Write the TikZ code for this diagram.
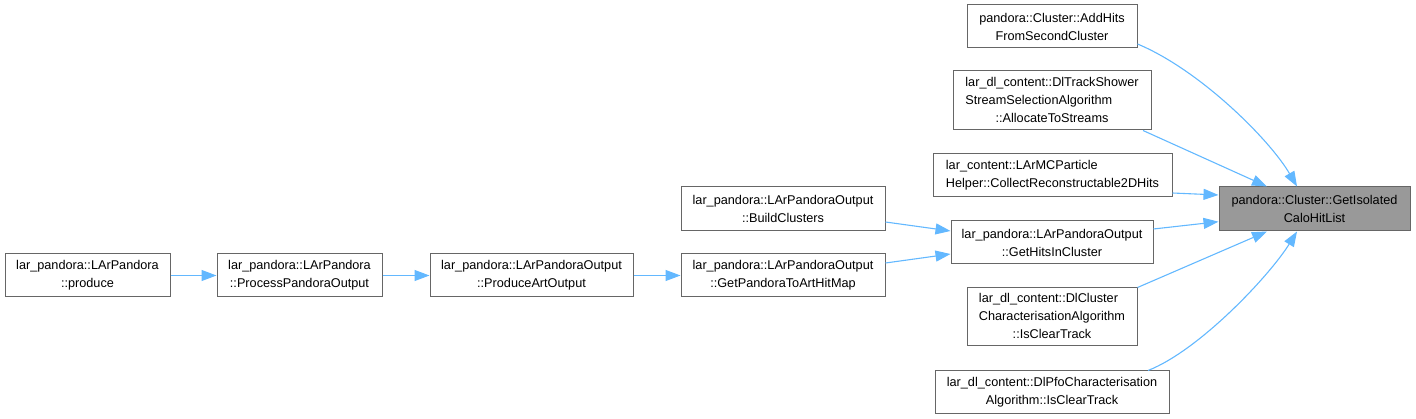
\documentclass[tikz,border=0pt]{standalone}
\usepackage{fontspec}
\setmainfont{Liberation Sans}
\usetikzlibrary{arrows.meta}
\definecolor{edgeblue}{HTML}{63B8FF}
\definecolor{boxborder}{HTML}{666666}
\definecolor{hlfill}{HTML}{999999}
\tikzset{
  fnbox/.style={draw=boxborder, line width=1pt, fill=white, inner sep=0pt, align=center,
    font=\fontsize{12.7}{18}\selectfont},
  hlbox/.style={fnbox, fill=hlfill},
  calledge/.style={draw=edgeblue, line width=1.1pt, -{Triangle[length=15pt,width=11pt]}}
}
\begin{document}
\begin{tikzpicture}[x=1pt,y=-1pt]
\useasboundingbox (0,0) rectangle (1416,419);
% left chain
\node[fnbox, minimum width=165pt, minimum height=43pt] (produce) at (87.5,275.5) {lar\_pandora::LArPandora\\::produce};
\node[fnbox, minimum width=165pt, minimum height=43pt] (process) at (299.5,275.5) {lar\_pandora::LArPandora\\::ProcessPandoraOutput};
\node[fnbox, minimum width=203pt, minimum height=43pt] (produceart) at (531.5,275.5) {lar\_pandora::LArPandoraOutput\\::ProduceArtOutput};
\node[fnbox, minimum width=204pt, minimum height=44pt] (buildclusters) at (783,209) {lar\_pandora::LArPandoraOutput\\::BuildClusters};
\node[fnbox, minimum width=204pt, minimum height=43pt] (getp2a) at (783,275.5) {lar\_pandora::LArPandoraOutput\\::GetPandoraToArtHitMap};
% right column
\node[fnbox, minimum width=202pt, minimum height=43pt] (gethits) at (1052,242.5) {lar\_pandora::LArPandoraOutput\\::GetHitsInCluster};
\node[fnbox, minimum width=170pt, minimum height=43pt] (addhits) at (1052,26.5) {pandora::Cluster::AddHits\\FromSecondCluster};
\node[fnbox, minimum width=198pt, minimum height=59pt] (trackshower) at (1052,100.5)
  {\begin{tabular}{@{}l@{}}lar\_dl\_content::DlTrackShower\\StreamSelectionAlgorithm\\\multicolumn{1}{@{}c@{}}{::AllocateToStreams}\end{tabular}};
\node[fnbox, minimum width=239pt, minimum height=43pt, align=left] (mcparticle) at (1052.5,175.5) {lar\_content::LArMCParticle\\Helper::CollectReconstructable2DHits};
\node[fnbox, minimum width=170pt, minimum height=58pt] (dlcluster) at (1052,317)
  {\begin{tabular}{@{}l@{}}lar\_dl\_content::DlCluster\\CharacterisationAlgorithm\\\multicolumn{1}{@{}c@{}}{::IsClearTrack}\end{tabular}};
\node[fnbox, minimum width=234pt, minimum height=42pt] (dlpfo) at (1052,392) {lar\_dl\_content::DlPfoCharacterisation\\Algorithm::IsClearTrack};
% highlighted
\node[hlbox, minimum width=191pt, minimum height=44pt] (isolated) at (1314.5,209) {pandora::Cluster::GetIsolated\\CaloHitList};
% edges
\draw[calledge] (produce.east) -- (process.west);
\draw[calledge] (process.east) -- (produceart.west);
\draw[calledge] (produceart.east) -- (getp2a.west);
\draw[calledge] ([yshift=-13pt]buildclusters.east) -- ([yshift=11.5pt]gethits.west);
\draw[calledge] ([yshift=12.5pt]getp2a.east) -- ([yshift=-11.5pt]gethits.west);
\draw[calledge] ([yshift=13.5pt]gethits.east) -- ([yshift=-12.7pt]isolated.west);
\draw[calledge] ([yshift=-17.5pt]mcparticle.east) -- ([yshift=14pt]isolated.west);
\draw[calledge] ([xshift=91pt]trackshower.south) -- ([xshift=-47.5pt]isolated.north);
\draw[calledge] ([yshift=-17.5pt]addhits.east) .. controls (1200,70) and (1270,140) .. ([xshift=-17.5pt]isolated.north);
\draw[calledge] (dlcluster.north east) -- ([xshift=-47.5pt]isolated.south);
\draw[calledge] ([xshift=96pt]dlpfo.north) .. controls (1200,350) and (1270,275) .. ([xshift=-17.5pt]isolated.south);
\end{tikzpicture}
\end{document}
